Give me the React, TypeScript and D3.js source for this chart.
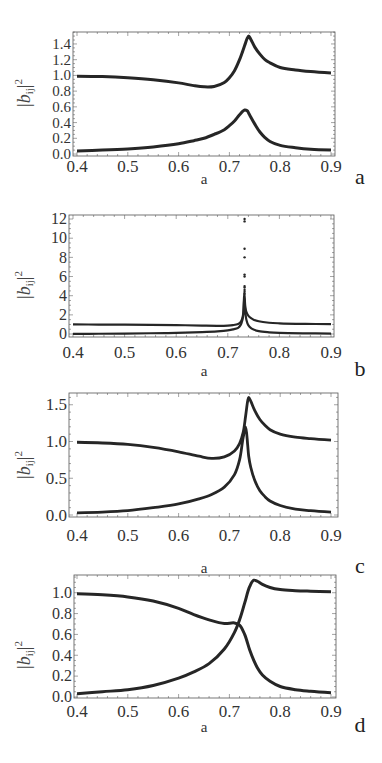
import React, { useEffect, useRef } from "react";
import * as d3 from "d3";

// panel a
const aX = [0.4, 0.45, 0.5, 0.55, 0.6, 0.63, 0.65, 0.67, 0.69, 0.7, 0.71, 0.72, 0.73, 0.735, 0.738, 0.742, 0.75, 0.76, 0.77, 0.78, 0.8, 0.83, 0.86, 0.9];
const aUpper = [0.99, 0.985, 0.97, 0.945, 0.905, 0.87, 0.855, 0.86, 0.91, 0.97, 1.06, 1.2, 1.38, 1.47, 1.5, 1.46, 1.36, 1.27, 1.2, 1.16, 1.1, 1.07, 1.05, 1.03];
const aLower = [0.04, 0.05, 0.065, 0.09, 0.13, 0.17, 0.2, 0.25, 0.31, 0.36, 0.42, 0.5, 0.56, 0.55, 0.52, 0.47, 0.38, 0.28, 0.21, 0.16, 0.11, 0.08, 0.06, 0.05];

// panel b
const bX = [0.4, 0.45, 0.5, 0.55, 0.6, 0.65, 0.68, 0.7, 0.71, 0.72, 0.725, 0.728, 0.73, 0.732, 0.734, 0.736, 0.74, 0.745, 0.75, 0.76, 0.78, 0.8, 0.85, 0.9];
const bUpper = [1.0, 0.99, 0.98, 0.96, 0.93, 0.88, 0.86, 0.88, 0.93, 1.05, 1.25, 1.6, 2.2, 4.3, 2.8, 2.3, 1.9, 1.65, 1.5, 1.33, 1.18, 1.12, 1.06, 1.03];
const bLower = [0.02, 0.03, 0.05, 0.08, 0.12, 0.2, 0.28, 0.38, 0.48, 0.65, 0.95, 1.4, 2.0, 3.8, 2.3, 1.5, 0.9, 0.62, 0.47, 0.3, 0.18, 0.12, 0.07, 0.05];
const bSpikeX = [0.7325, 0.7325, 0.7325, 0.7325, 0.7325, 0.7325, 0.7325, 0.7325, 0.7325, 0.7325, 0.7325];
const bSpikeY = [12.0, 11.75, 8.9, 8.0, 6.2, 6.0, 5.0, 4.85, 4.6, 4.4, 4.2];

// panel c
const cX = [0.4, 0.45, 0.5, 0.55, 0.6, 0.64, 0.665, 0.69, 0.71, 0.72, 0.727, 0.732, 0.736, 0.738, 0.742, 0.75, 0.76, 0.77, 0.78, 0.8, 0.83, 0.86, 0.9];
const cUpper = [0.99, 0.98, 0.96, 0.92, 0.86, 0.8, 0.77, 0.79, 0.87, 0.97, 1.12, 1.35, 1.55, 1.6, 1.55, 1.42, 1.3, 1.22, 1.16, 1.1, 1.06, 1.04, 1.02];
const cLower = [0.03, 0.04, 0.06, 0.1, 0.15, 0.22, 0.28, 0.38, 0.55, 0.75, 1.05, 1.2, 0.95, 0.8, 0.65, 0.47, 0.33, 0.25, 0.19, 0.13, 0.08, 0.06, 0.04];

// panel d
const dX = [0.4, 0.45, 0.5, 0.55, 0.6, 0.63, 0.66, 0.69, 0.71, 0.72, 0.73, 0.74, 0.748, 0.755, 0.765, 0.78, 0.8, 0.83, 0.86, 0.9];
const dUpper = [0.99, 0.98, 0.96, 0.92, 0.85, 0.79, 0.74, 0.705, 0.71, 0.69, 0.6, 0.45, 0.35, 0.28, 0.21, 0.15, 0.1, 0.07, 0.055, 0.04];
const dLower = [0.03, 0.05, 0.07, 0.11, 0.18, 0.24, 0.32, 0.46, 0.62, 0.74, 0.9, 1.06, 1.12, 1.11, 1.08, 1.05, 1.03, 1.02, 1.015, 1.01];

const xTicks = [0.4, 0.5, 0.6, 0.7, 0.8, 0.9];
const aYTicks = [0.0, 0.2, 0.4, 0.6, 0.8, 1.0, 1.2, 1.4];
const bYTicks = [0, 2, 4, 6, 8, 10, 12];
const cYTicks = [0.0, 0.5, 1.0, 1.5];
const dYTicks = [0.0, 0.2, 0.4, 0.6, 0.8, 1.0];

const panels = [
  { id: "a", left: 73, top: 32, right: 335, bottom: 156, x0: 77, x1: 331, ydom: [-0.025, 1.552], x: aX, up: aUpper, lo: aLower, yt: aYTicks, fmt: ".1f", minorY: 0.05, tickDy: 16, labY: 93, xlabY: 184, sw: 3, yfs: 15 },
  { id: "b", left: 69, top: 215, right: 334, bottom: 337, x0: 73, x1: 331, ydom: [-0.31, 12.42], x: bX, up: bUpper, lo: bLower, yt: bYTicks, fmt: "d", minorY: 0.5, tickDy: 21, labY: 285, xlabY: 376, sw: 2.2, yfs: 16 },
  { id: "c", left: 69, top: 393, right: 338, bottom: 517, x0: 77, x1: 331, ydom: [-0.027, 1.66], x: cX, up: cUpper, lo: cLower, yt: cYTicks, fmt: ".1f", minorY: 0.1, tickDy: 24, labY: 465, xlabY: 573, sw: 2.8, yfs: 17 },
  { id: "d", left: 74, top: 575, right: 336, bottom: 698, x0: 77, x1: 331, ydom: [-0.01, 1.17], x: dX, up: dUpper, lo: dLower, yt: dYTicks, fmt: ".1f", minorY: 0.05, tickDy: 19, labY: 655, xlabY: 732, sw: 3, yfs: 16 },
];

export default function App() {
  const ref = useRef<SVGSVGElement>(null);

  useEffect(() => {
    const svg = d3.select(ref.current);
    svg.selectAll("*").remove();
    const font = "Liberation Serif, DejaVu Serif, Times New Roman, serif";

    panels.forEach(function (p) {
      const g = svg.append("g").style("font-family", font);
      const kx = (p.x1 - p.x0) / 0.5;
      const x = d3.scaleLinear().domain([0.4 - (p.x0 - p.left) / kx, 0.9 + (p.right - p.x1) / kx]).range([p.left, p.right]);
      const y = d3.scaleLinear().domain(p.ydom).range([p.bottom, p.top]);

      // ticks on all four sides
      const minorX = d3.range(0.4, 0.9001, 0.02);
      const minorY = d3.range(Math.ceil(p.ydom[0] / p.minorY) * p.minorY, p.ydom[1], p.minorY);
      const tk = g.append("g").attr("stroke", "#666").attr("stroke-width", 0.6);
      minorX.forEach(function (v) {
        const major = xTicks.some((t) => Math.abs(t - v) < 1e-6);
        const len = major ? 4 : 2;
        tk.append("line").attr("x1", x(v)).attr("x2", x(v)).attr("y1", p.bottom).attr("y2", p.bottom - len);
        tk.append("line").attr("x1", x(v)).attr("x2", x(v)).attr("y1", p.top).attr("y2", p.top + len);
      });
      minorY.forEach(function (v) {
        const major = p.yt.some((t) => Math.abs(t - v) < 1e-6);
        const len = major ? 4 : 2;
        tk.append("line").attr("x1", p.left).attr("x2", p.left + len).attr("y1", y(v)).attr("y2", y(v));
        tk.append("line").attr("x1", p.right).attr("x2", p.right - len).attr("y1", y(v)).attr("y2", y(v));
      });

      g.append("rect")
        .attr("x", p.left).attr("y", p.top)
        .attr("width", p.right - p.left).attr("height", p.bottom - p.top)
        .attr("fill", "none").attr("stroke", "#555").attr("stroke-width", 0.8);

      // tick labels
      g.selectAll("text.xt").data(xTicks).enter().append("text")
        .attr("x", (d) => x(d)).attr("y", p.bottom + p.tickDy)
        .attr("text-anchor", "middle").style("font-size", "17px").attr("fill", "#333")
        .text((d) => d3.format(".1f")(d));
      g.selectAll("text.yt").data(p.yt).enter().append("text")
        .attr("x", p.left - 2).attr("y", (d) => y(d) + p.yfs * 0.33)
        .attr("text-anchor", "end").style("font-size", p.yfs + "px").attr("fill", "#333")
        .text((d) => d3.format(p.fmt)(d));

      // curves
      const line = d3.line<number>().x((d, i) => x(p.x[i])).y((d) => y(d)).curve(d3.curveCatmullRom.alpha(0.5));
      [p.up, p.lo].forEach(function (s) {
        g.append("path").attr("d", line(s)).attr("fill", "none")
          .attr("stroke", "#262626").attr("stroke-width", p.sw).attr("stroke-linejoin", "round");
      });
      if (p.id === "b") {
        g.selectAll("circle.sp").data(bSpikeY).enter().append("circle")
          .attr("cx", (d, i) => x(bSpikeX[i])).attr("cy", (d) => y(d)).attr("r", 1.2).attr("fill", "#262626");
      }

      // axis labels
      const yl = g.append("text")
        .attr("transform", "translate(30," + p.labY + ") rotate(-90)")
        .attr("text-anchor", "middle").style("font-size", "18px").attr("fill", "#444");
      yl.append("tspan").text("|");
      yl.append("tspan").attr("font-style", "italic").text("b");
      yl.append("tspan").style("font-size", "11px").attr("dy", 3).text("ij");
      yl.append("tspan").attr("dy", -3).text("|");
      yl.append("tspan").style("font-size", "11px").attr("dy", -8).text("2");

      g.append("text").attr("x", 204).attr("y", p.xlabY)
        .attr("text-anchor", "middle").style("font-size", "15px").attr("fill", "#333")
        .text("a");
      g.append("text").attr("x", 360).attr("y", p.xlabY)
        .attr("text-anchor", "middle").style("font-size", "22px").attr("fill", "#222")
        .text(p.id);
    });
  }, []);

  return (
    <svg ref={ref} width={382} height={763} style={{ position: "absolute", left: 0, top: 0, background: "#fff" }} />
  );
}
